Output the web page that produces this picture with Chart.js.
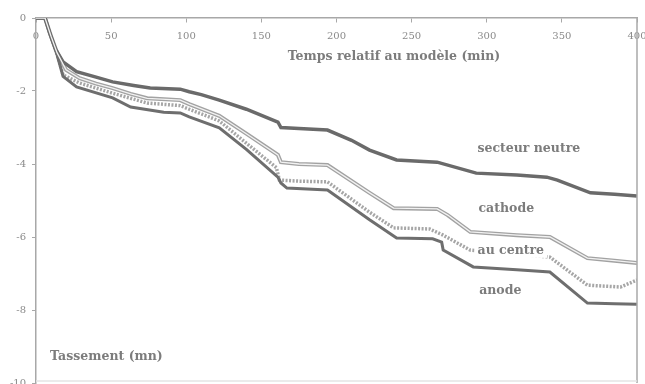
<!DOCTYPE html>
<html>
<head>
<meta charset="utf-8">
<script src="https://cdn.jsdelivr.net/npm/chart.js@4"></script>
<style>
  html, body { margin: 0; padding: 0; background: #fff; }
  .wrap { width: 645px; height: 384px; position: relative; }
</style>
</head>
<body>
<div class="wrap"><canvas id="tassement"></canvas></div>
<script>
// temps (min) et tassement (mm)
const neutreT = [0, 6, 9, 13, 18, 27, 40, 51, 65, 76, 96, 102, 110, 122, 140, 161, 163, 175, 194, 210, 222, 240, 267, 293, 320, 340, 347, 369, 385, 400];
const neutreV = [0, 0, -0.4, -0.85, -1.2, -1.47, -1.62, -1.75, -1.85, -1.92, -1.95, -2.02, -2.1, -2.25, -2.5, -2.85, -3.0, -3.03, -3.07, -3.35, -3.62, -3.89, -3.95, -4.25, -4.3, -4.36, -4.44, -4.79, -4.83, -4.88];

const cathodeT = [0, 6, 10, 14, 20, 29, 40, 51, 63, 74, 96, 102, 122, 140, 161, 163, 175, 194, 222, 238, 267, 274, 289, 320, 342, 367, 385, 400];
const cathodeV = [0, 0, -0.5, -0.95, -1.42, -1.65, -1.8, -1.92, -2.08, -2.2, -2.25, -2.36, -2.68, -3.17, -3.75, -3.95, -4.0, -4.03, -4.79, -5.21, -5.23, -5.4, -5.86, -5.95, -6.0, -6.58, -6.65, -6.71];

const centreT = [0, 6, 10, 14, 18, 29, 51, 63, 74, 96, 102, 122, 140, 160, 162, 175, 194, 222, 238, 262, 271, 289, 320, 342, 367, 389, 400];
const centreV = [0, 0, -0.5, -1.0, -1.56, -1.78, -2.06, -2.2, -2.33, -2.4, -2.5, -2.82, -3.43, -4.1, -4.44, -4.47, -4.49, -5.32, -5.75, -5.78, -5.95, -6.36, -6.47, -6.55, -7.32, -7.37, -7.18];

const anodeT = [0, 6, 10, 14, 18, 27, 51, 63, 85, 96, 102, 122, 140, 161, 163, 167, 194, 222, 240, 264, 270, 271, 291, 320, 342, 367, 385, 400];
const anodeV = [0, 0, -0.5, -1.0, -1.6, -1.89, -2.19, -2.44, -2.58, -2.6, -2.71, -3.01, -3.6, -4.36, -4.52, -4.66, -4.71, -5.53, -6.03, -6.05, -6.14, -6.36, -6.82, -6.9, -6.96, -7.81, -7.83, -7.84];

// étiquettes posées dans le graphique [texte, temps, tassement]
const seriesLabels = [
    ['secteur neutre', 328, -3.59],
    ['cathode', 313, -5.23],
    ['au centre', 316, -6.38],
    ['anode', 309, -7.48]
];
const xTitle = 'Temps relatif au modèle (min)';
const yTitle = 'Tassement (mn)';

const toPoints = (ts, vs) => ts.map((t, i) => ({ x: t, y: vs[i] }));

const textFont = 'bold 12.5px "DejaVu Serif"';
const textColor = '#7c7c7c';

const annotations = {
    id: 'annotations',
    afterDraw(chart) {
        const { ctx, scales: { x, y }, chartArea } = chart;
        ctx.save();
        // cadre droit et bas
        ctx.strokeStyle = '#a8a8a8';
        ctx.lineWidth = 1.5;
        ctx.beginPath();
        ctx.moveTo(chartArea.right, chartArea.top);
        ctx.lineTo(chartArea.right, chartArea.bottom);
        ctx.stroke();
        ctx.strokeStyle = '#e4e4e4';
        ctx.beginPath();
        ctx.moveTo(chartArea.left, chartArea.bottom - 2);
        ctx.lineTo(chartArea.right, chartArea.bottom - 2);
        ctx.stroke();

        ctx.font = textFont;
        ctx.textBaseline = 'middle';
        ctx.textAlign = 'center';
        seriesLabels.forEach(([txt, t, v]) => {
            const px = x.getPixelForValue(t);
            const py = y.getPixelForValue(v);
            const w = ctx.measureText(txt).width;
            // fond blanc : la courbe passe sous l'étiquette
            ctx.fillStyle = '#fff';
            ctx.fillRect(px - w / 2 - 3, py - 7, w + 6, 14);
            ctx.fillStyle = textColor;
            ctx.fillText(txt, px, py);
        });
        ctx.fillStyle = textColor;
        ctx.fillText(xTitle, 394, 57);
        ctx.textAlign = 'left';
        ctx.fillText(yTitle, 50, 357);
        ctx.restore();
    }
};

const noPadding = (scale) => {
    scale.paddingTop = 0;
    scale.paddingBottom = 0;
    scale.paddingLeft = 0;
    scale.paddingRight = 0;
};

const context = document.getElementById('tassement').getContext('2d');

const chart = new Chart(context, {
    type: 'line',
    data: {
        datasets: [
            {
                label: 'secteur neutre',
                data: toPoints(neutreT, neutreV),
                borderColor: '#6a6a6a',
                borderWidth: 3.5,
                order: 2,
            },
            {
                label: 'cathode',
                data: toPoints(cathodeT, cathodeV),
                borderColor: '#a2a2a2',
                borderWidth: 4,
                order: 3,
            },
            {
                label: 'cathode (intérieur)',
                data: toPoints(cathodeT, cathodeV),
                borderColor: '#f2f2f2',
                borderWidth: 1.3,
                order: 0,
            },
            {
                label: 'au centre',
                data: toPoints(centreT, centreV),
                borderColor: '#a6a6a6',
                borderWidth: 3.5,
                borderDash: [2, 1.5],
                order: 3,
            },
            {
                label: 'anode',
                data: toPoints(anodeT, anodeV),
                borderColor: '#6e6e6e',
                borderWidth: 3,
                order: 2,
            }
        ]
    },
    options: {
        responsive: true,
        maintainAspectRatio: false,
        animation: false,
        layout: { padding: { top: 18, right: 8, bottom: 1, left: 0 } },
        elements: {
            point: { radius: 0 },
            line: { tension: 0, fill: false }
        },
        plugins: {
            legend: { display: false },
            tooltip: { enabled: false },
        },
        scales: {
            x: {
                type: 'linear',
                position: { y: 0 },
                min: 0,
                max: 400,
                afterFit: noPadding,
                ticks: {
                    stepSize: 50,
                    padding: 8,
                    color: '#8a8a8a',
                    font: { family: 'DejaVu Serif', size: 10 },
                    maxRotation: 0,
                },
                grid: { drawOnChartArea: false, tickLength: 4, color: '#a8a8a8' },
                border: { color: '#a8a8a8', width: 1.5 },
            },
            y: {
                type: 'linear',
                position: 'left',
                min: -10,
                max: 0,
                afterFit: (scale) => { noPadding(scale); scale.width = 36; },
                ticks: {
                    stepSize: 2,
                    padding: 6,
                    color: '#8a8a8a',
                    font: { family: 'DejaVu Serif', size: 10 },
                },
                grid: { drawOnChartArea: false, tickLength: 4, color: '#a8a8a8' },
                border: { color: '#a8a8a8', width: 1.5 },
            }
        }
    },
    plugins: [annotations]
});
</script>
</body>
</html>
